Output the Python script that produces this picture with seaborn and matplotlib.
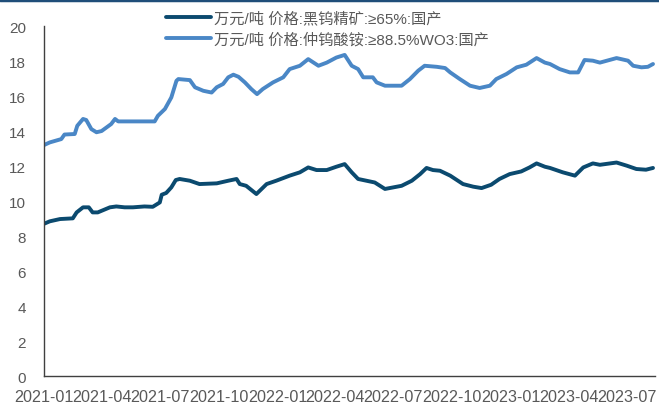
import pandas as pd
import matplotlib.pyplot as plt
import matplotlib.dates as mdates
import seaborn as sns

label_ore = "万元/吨 价格:黑钨精矿:≥65%:国产"
label_apt = "万元/吨 价格:仲钨酸铵:≥88.5%WO3:国产"

ore_dates = ["2021-01-01", "2021-01-10", "2021-01-26", "2021-02-15", "2021-02-21", "2021-03-03",
             "2021-03-12", "2021-03-18", "2021-03-26", "2021-04-14", "2021-04-24", "2021-05-07",
             "2021-05-20", "2021-06-07", "2021-06-20", "2021-07-01", "2021-07-04", "2021-07-11",
             "2021-07-19", "2021-07-26", "2021-08-01", "2021-08-17", "2021-09-01", "2021-09-28",
             "2021-10-16", "2021-10-29", "2021-11-03", "2021-11-13", "2021-11-29", "2021-12-15",
             "2021-12-30", "2022-01-20", "2022-02-05", "2022-02-18", "2022-03-03", "2022-03-19",
             "2022-04-03", "2022-04-16", "2022-04-27", "2022-05-07", "2022-05-20", "2022-06-02",
             "2022-06-18", "2022-07-01", "2022-07-14", "2022-07-30", "2022-08-12", "2022-08-22",
             "2022-09-01", "2022-09-12", "2022-09-28", "2022-10-18", "2022-11-03", "2022-11-16",
             "2022-12-01", "2022-12-14", "2022-12-30", "2023-01-17", "2023-01-30", "2023-02-10",
             "2023-02-23", "2023-03-03", "2023-03-23", "2023-04-11", "2023-04-24", "2023-05-09",
             "2023-05-20", "2023-06-15", "2023-07-01", "2023-07-16", "2023-07-31", "2023-08-11"]
ore_price = [8.70, 8.84, 8.97, 9.01, 9.35, 9.64,
             9.64, 9.35, 9.35, 9.64, 9.69, 9.64,
             9.64, 9.69, 9.67, 9.92, 10.36, 10.46,
             10.78, 11.20, 11.26, 11.16, 10.97, 11.01,
             11.16, 11.26, 10.97, 10.87, 10.40, 10.97,
             11.16, 11.45, 11.64, 11.92, 11.77, 11.77,
             11.96, 12.11, 11.64, 11.26, 11.16, 11.06,
             10.69, 10.78, 10.87, 11.16, 11.54, 11.89,
             11.77, 11.73, 11.45, 10.97, 10.82, 10.74,
             10.93, 11.26, 11.54, 11.69, 11.92, 12.15,
             11.96, 11.89, 11.64, 11.45, 11.92, 12.15,
             12.07, 12.20, 12.02, 11.83, 11.79, 11.89]

apt_dates = ["2021-01-01", "2021-01-10", "2021-01-28", "2021-02-02", "2021-02-18", "2021-02-22",
             "2021-03-03", "2021-03-08", "2021-03-16", "2021-03-24", "2021-04-01", "2021-04-16",
             "2021-04-22", "2021-04-27", "2021-06-23", "2021-06-28", "2021-07-09", "2021-07-19",
             "2021-07-27", "2021-07-30", "2021-08-17", "2021-08-25", "2021-09-07", "2021-09-20",
             "2021-09-28", "2021-10-08", "2021-10-16", "2021-10-24", "2021-11-01", "2021-11-11",
             "2021-11-21", "2021-11-30", "2021-12-09", "2021-12-25", "2022-01-10", "2022-01-20",
             "2022-02-05", "2022-02-18", "2022-03-06", "2022-03-19", "2022-04-03", "2022-04-16",
             "2022-04-27", "2022-05-07", "2022-05-15", "2022-05-30", "2022-06-05", "2022-06-18",
             "2022-07-14", "2022-07-27", "2022-08-09", "2022-08-19", "2022-09-07", "2022-09-20",
             "2022-09-28", "2022-10-13", "2022-10-29", "2022-11-13", "2022-11-29", "2022-12-09",
             "2022-12-25", "2023-01-10", "2023-01-25", "2023-02-10", "2023-02-23", "2023-03-03",
             "2023-03-18", "2023-04-03", "2023-04-16", "2023-04-26", "2023-05-09", "2023-05-20",
             "2023-06-15", "2023-07-03", "2023-07-11", "2023-07-24", "2023-08-03", "2023-08-11"]
apt_price = [13.20, 13.35, 13.54, 13.80, 13.83, 14.30,
             14.69, 14.63, 14.11, 13.93, 14.00, 14.40,
             14.69, 14.55, 14.55, 14.87, 15.26, 15.92,
             16.87, 16.97, 16.91, 16.50, 16.30, 16.20,
             16.50, 16.69, 17.07, 17.22, 17.10, 16.78,
             16.40, 16.11, 16.40, 16.78, 17.07, 17.54,
             17.73, 18.11, 17.73, 17.91, 18.20, 18.35,
             17.73, 17.54, 17.07, 17.07, 16.78, 16.59,
             16.59, 16.97, 17.45, 17.73, 17.67, 17.60,
             17.35, 16.97, 16.59, 16.46, 16.59, 16.97,
             17.26, 17.64, 17.79, 18.17, 17.91, 17.83,
             17.54, 17.35, 17.35, 18.06, 18.02, 17.91,
             18.17, 18.02, 17.73, 17.64, 17.67, 17.83]

df = pd.concat([
    pd.DataFrame({"date": pd.to_datetime(ore_dates), "price": ore_price, "series": label_ore}),
    pd.DataFrame({"date": pd.to_datetime(apt_dates), "price": apt_price, "series": label_apt}),
])

sns.set_style("white")
plt.rcParams['font.family'] = ['Liberation Sans', 'Noto Sans CJK SC', 'DejaVu Sans']

fig = plt.figure(figsize=(6.59, 4.06), dpi=100)
ax = fig.add_axes([0.0668, 0.0714, 0.927, 0.862])

sns.lineplot(data=df, x="date", y="price", hue="series", hue_order=[label_ore, label_apt],
             palette={label_ore: "#0b4a6f", label_apt: "#4a87c6"}, linewidth=2.8, ax=ax)

handles, labels = ax.get_legend_handles_labels()
ax.get_legend().remove()
fig.legend(handles, labels, loc="upper left", bbox_to_anchor=(0.235, 0.998), frameon=False,
           fontsize=11, labelcolor="#595959", handlelength=3.0, handletextpad=0.2,
           labelspacing=0.45, borderaxespad=0.3)

ax.set_ylim(0, 20)
ax.set_yticks(range(0, 21, 2))
ax.set_xlim(pd.Timestamp("2021-01-01"), pd.Timestamp("2023-08-14"))
ax.set_xticks(pd.date_range("2021-01-01", "2023-07-01", freq="QS"))
ax.xaxis.set_major_formatter(mdates.DateFormatter("%Y-%m"))
ax.set_xlabel("")
ax.set_ylabel("")

for side in ["top", "right"]:
    ax.spines[side].set_visible(False)
for side in ["left", "bottom"]:
    ax.spines[side].set_color("#404040")
    ax.spines[side].set_linewidth(1.0)

ax.tick_params(axis="both", direction="in", length=4, color="#404040", labelcolor="#595959")
ax.tick_params(axis="y", pad=13, labelsize=11)
ax.tick_params(axis="x", pad=9, labelsize=11.6)

# dark strip along the top edge
fig.add_artist(plt.Line2D([0, 1], [0.997, 0.997], transform=fig.transFigure,
                          color="#1f4e79", linewidth=2.5))

fig.savefig("out.png", dpi=100)
